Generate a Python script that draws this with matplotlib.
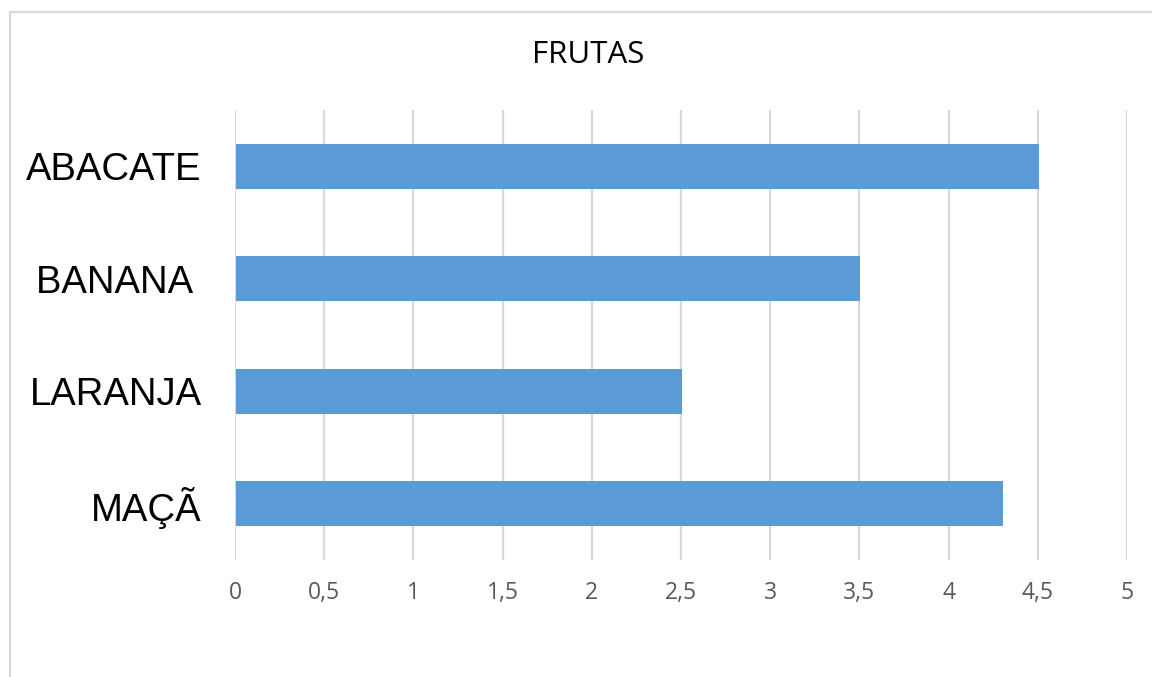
import matplotlib.pyplot as plt
import matplotlib.patches as patches

# data
fruits = ["ABACATE", "BANANA ", "LARANJA", "MAÇÃ"]
amounts = [4.5, 3.5, 2.5, 4.3]
x_ticks = [0, 0.5, 1, 1.5, 2, 2.5, 3, 3.5, 4, 4.5, 5]
x_tick_labels = ["0", "0,5", "1", "1,5", "2", "2,5", "3", "3,5", "4", "4,5", "5"]

fig = plt.figure(figsize=(11.52, 6.77), dpi=100)
ax = fig.add_axes([235 / 1152, 1 - 560 / 677, (1127 - 235) / 1152, 450 / 677])

positions = list(range(len(fruits)))[::-1]
ax.barh(positions, amounts, height=0.4, left=0.006, color="#5b9bd5", zorder=3)

ax.set_xlim(0, 5)
ax.set_ylim(-0.5, 3.5)
ax.set_xticks(x_ticks)
ax.set_xticklabels(x_tick_labels, family="Open Sans", fontsize=16.5, color="#595959")
ax.set_yticks(positions)
ax.set_yticklabels(fruits, family="Liberation Sans", fontsize=27.5, color="black")
ax.tick_params(axis="both", length=0)
ax.tick_params(axis="x", pad=15)
ax.tick_params(axis="y", pad=24)

ax.grid(True, axis="x", color="#d9d9d9", linewidth=1.6, zorder=0)
for side in ["top", "right", "bottom", "left"]:
    ax.spines[side].set_visible(False)

fig.text(588 / 1152, 1 - 55 / 677, "FRUTAS", family="Open Sans", fontsize=22.5,
         ha="center", va="center", color="black")

# chart border (only the left and top edges are inside the picture)
frame = patches.Rectangle((10 / 1152, -0.2), 1.2, 1.2 - 12 / 677, transform=fig.transFigure,
                          fill=False, edgecolor="#d9d9d9", linewidth=1.6)
fig.patches.append(frame)

fig.savefig("out.png", dpi=100)
